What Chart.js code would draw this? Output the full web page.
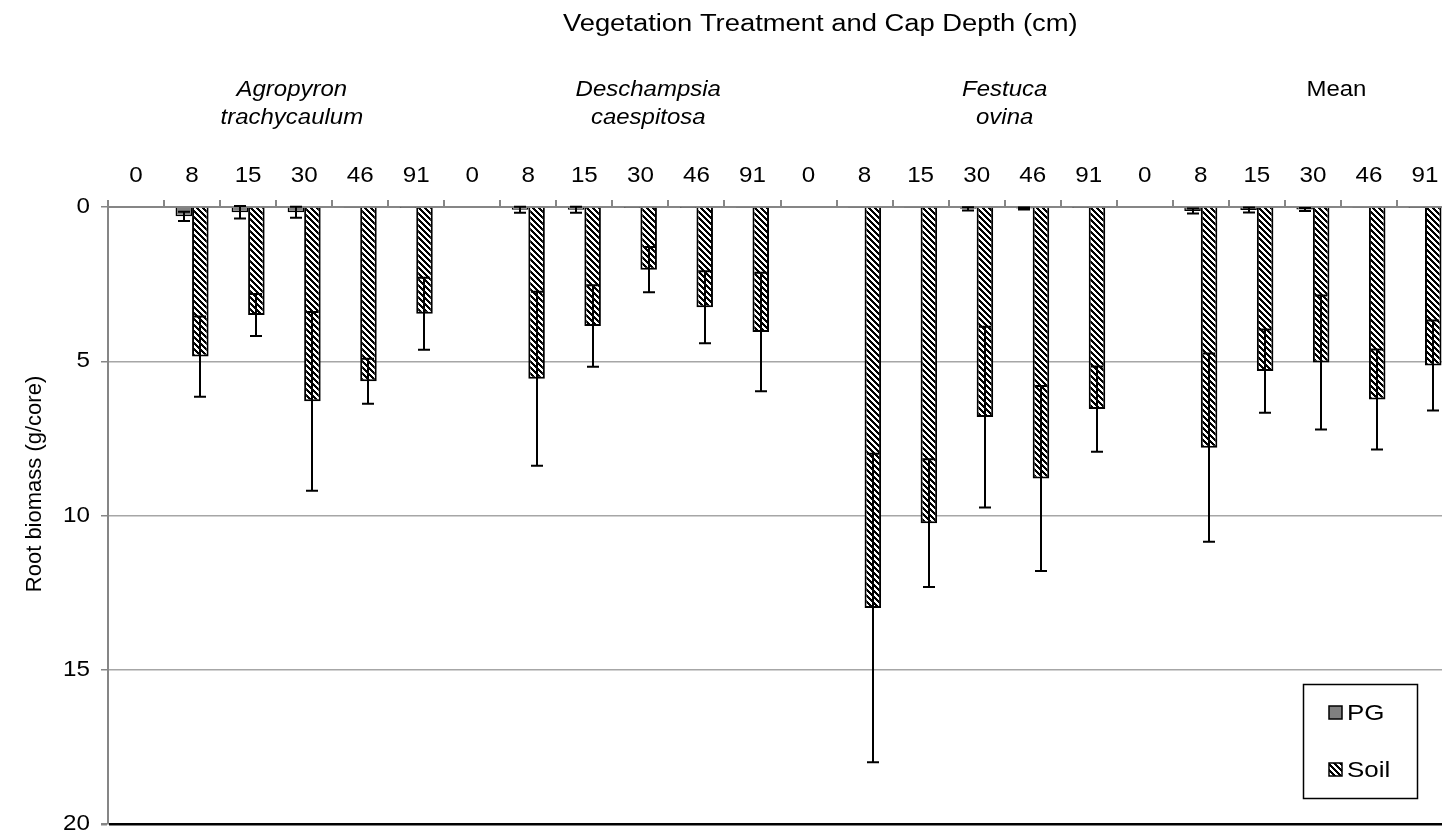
<!DOCTYPE html>
<html>
<head>
<meta charset="utf-8">
<script src="https://cdn.jsdelivr.net/npm/chart.js@4.4.1/dist/chart.umd.min.js"></script>
<style>
  html, body { margin: 0; padding: 0; background: #fff; overflow: hidden; width: 1442px; height: 837px; }
  canvas { display: block; }
</style>
</head>
<body>
<canvas id="chart" width="1470" height="837"></canvas>
<script>
// Treatments (category groups) and cap depths (cm) within each group
const treatments = ['Agropyron trachycaulum', 'Deschampsia caespitosa', 'Festuca ovina', 'Mean'];
const treatmentItalic = [true, true, true, false];
const capDepths = ['0', '8', '15', '30', '46', '91'];

// Root biomass (g/core), one entry per treatment x depth
const pgBiomass = [
  0, 0.30, 0.17, 0.17, 0.03, 0.01,
  0, 0.09, 0.09, 0.01, 0.01, 0.03,
  0, 0.02, 0.02, 0.06, 0.05, 0.01,
  0, 0.13, 0.10, 0.08, 0.02, 0.01
];
const pgError = [
  0, 0.15, 0.20, 0.18, 0, 0,
  0, 0.10, 0.10, 0, 0, 0,
  0, 0, 0, 0.05, 0.03, 0,
  0, 0.08, 0.08, 0.05, 0, 0
];
const soilBiomass = [
  0, 4.85, 3.50, 6.30, 5.65, 3.46,
  0, 5.57, 3.86, 2.03, 3.25, 4.05,
  0, 13.00, 10.25, 6.81, 8.80, 6.55,
  0, 7.80, 5.32, 5.04, 6.24, 5.14
];
const soilError = [
  0, 1.30, 0.68, 2.90, 0.73, 1.17,
  0, 2.82, 1.32, 0.73, 1.17, 1.92,
  0, 5.00, 2.07, 2.93, 3.00, 1.38,
  0, 3.05, 1.35, 2.17, 1.62, 1.46
];
const yTicks = [0, 5, 10, 15, 20];

const categoryLabels = [];
treatments.forEach(() => capDepths.forEach(d => categoryLabels.push(d)));

const FONT = '"Liberation Sans", Arial, sans-serif';
const FONT_SIZE = 22;

// Draw a text string, optionally widened horizontally around its anchor
function wideText(ctx, str, x, y, opts = {}) {
  const size = opts.size || FONT_SIZE;
  const stretch = opts.stretch || 1;
  ctx.save();
  ctx.font = `${opts.italic ? 'italic ' : ''}${size}px ${FONT}`;
  ctx.fillStyle = '#000';
  ctx.textAlign = opts.align || 'center';
  ctx.textBaseline = 'middle';
  ctx.translate(x, y);
  if (opts.rotate) ctx.rotate(opts.rotate);
  ctx.scale(stretch, 1);
  ctx.fillText(str, 0, 0);
  ctx.restore();
}

// Wide downward-diagonal hatch used for the soil bars
function makeHatch() {
  const n = 6;
  const tile = document.createElement('canvas');
  tile.width = n; tile.height = n;
  const t = tile.getContext('2d');
  t.fillStyle = '#fff';
  t.fillRect(0, 0, n, n);
  t.fillStyle = '#000';
  for (let r = 0; r < n; r++) {
    for (let k = 0; k < 3; k++) {
      t.fillRect((r + k) % n, r, 1, 1);
    }
  }
  return t.createPattern(tile, 'repeat');
}
const hatch = makeHatch();

// Symmetric error bars with caps, positioned through the value scale
const errorBarPlugin = {
  id: 'errorBars',
  afterDatasetsDraw(chart) {
    const ctx = chart.ctx;
    const ys = chart.scales.y;
    chart.data.datasets.forEach((ds, di) => {
      const meta = chart.getDatasetMeta(di);
      meta.data.forEach((bar, i) => {
        const v = ds.data[i];
        const e = ds.errors[i];
        if (!e) return;
        const x = Math.round(bar.x);
        const yLo = ys.getPixelForValue(v - e);
        const yHi = ys.getPixelForValue(v + e);
        const half = 6;
        ctx.save();
        ctx.strokeStyle = '#000';
        ctx.lineWidth = 2;
        ctx.beginPath();
        ctx.moveTo(x, yLo); ctx.lineTo(x, yHi);
        ctx.moveTo(x - half, yLo); ctx.lineTo(x + half, yLo);
        ctx.moveTo(x - half, yHi); ctx.lineTo(x + half, yHi);
        ctx.stroke();
        ctx.restore();
      });
    });
  }
};

// Tick labels, axis titles, treatment group labels and the framed legend
const groupLabelAt = [2.78, 9.14, 15.5, 21.42];
const annotationPlugin = {
  id: 'annotations',
  afterDraw(chart) {
    const ctx = chart.ctx;
    const xs = chart.scales.x;
    const ys = chart.scales.y;

    // depth labels along the top axis
    chart.data.labels.forEach((lab, i) => {
      wideText(ctx, lab, xs.getPixelForValue(i), 176, { stretch: 1.1 });
    });
    // value labels along the left axis
    ys.ticks.forEach(t => {
      wideText(ctx, String(t.value), 90, ys.getPixelForValue(t.value), { align: 'right', stretch: 1.1 });
    });

    wideText(ctx, 'Vegetation Treatment and Cap Depth (cm)', xs.getPixelForValue(12.21), 25, { size: 23, stretch: 1.19 });

    treatments.forEach((name, g) => {
      const cx = xs.getPixelForValue(groupLabelAt[g]);
      name.split(' ').forEach((w, k) =>
        wideText(ctx, w, cx, 90 + k * 28, { italic: treatmentItalic[g], stretch: 1.09 }));
    });

    wideText(ctx, 'Root biomass (g/core)', 35, 484, { rotate: -Math.PI / 2 });

    // Legend
    const lx = 1303, ly = 684, lw = 114, lh = 114;
    ctx.save();
    ctx.strokeStyle = '#000';
    ctx.lineWidth = 1.5;
    ctx.strokeRect(lx + 0.5, ly + 0.5, lw, lh);
    chart.data.datasets.forEach((ds, i) => {
      const sy = 706 + i * 57;
      ctx.fillStyle = ds.backgroundColor;
      ctx.fillRect(1329, sy, 13, 13);
      ctx.lineWidth = 1.5;
      ctx.strokeStyle = '#000';
      ctx.strokeRect(1329, sy, 13, 13);
      wideText(ctx, ds.label, 1347, sy + 7.5, { align: 'left', stretch: 1.18 });
    });
    ctx.restore();
  }
};

new Chart(document.getElementById('chart'), {
  type: 'bar',
  data: {
    labels: categoryLabels,
    datasets: [
      {
        label: 'PG',
        data: pgBiomass,
        errors: pgError,
        backgroundColor: '#808080',
        borderColor: '#000',
        borderWidth: 1.5
      },
      {
        label: 'Soil',
        data: soilBiomass,
        errors: soilError,
        backgroundColor: hatch,
        borderColor: '#000',
        borderWidth: 2
      }
    ]
  },
  options: {
    responsive: false,
    animation: false,
    devicePixelRatio: 1,
    layout: { padding: { left: 0, right: 17, top: 0, bottom: 13 } },
    datasets: { bar: { categoryPercentage: 0.59, barPercentage: 1.0 } },
    plugins: { legend: { display: false }, tooltip: { enabled: false } },
    scales: {
      x: {
        position: 'top',
        grid: {
          offset: true,
          drawOnChartArea: false,
          drawTicks: true,
          tickLength: 7,
          color: '#868686',
          lineWidth: 2
        },
        border: { display: true, color: '#868686', width: 2 },
        ticks: { display: false, autoSkip: false },
        afterFit(s) { s.height = 207; }
      },
      y: {
        reverse: true,
        min: yTicks[0],
        max: yTicks[yTicks.length - 1],
        afterBuildTicks(s) { s.ticks = yTicks.map(v => ({ value: v })); },
        ticks: { display: false },
        grid: {
          color: c => (c.tick && c.tick.value === 20 ? '#000' : '#a6a6a6'),
          lineWidth: c => (c.tick && c.tick.value === 20 ? 2.5 : 1.5),
          tickColor: '#868686',
          tickLength: 7,
          drawTicks: true
        },
        border: { display: true, color: '#868686', width: 2 },
        afterFit(s) { s.width = 108; }
      }
    }
  },
  plugins: [errorBarPlugin, annotationPlugin]
});
</script>
</body>
</html>
